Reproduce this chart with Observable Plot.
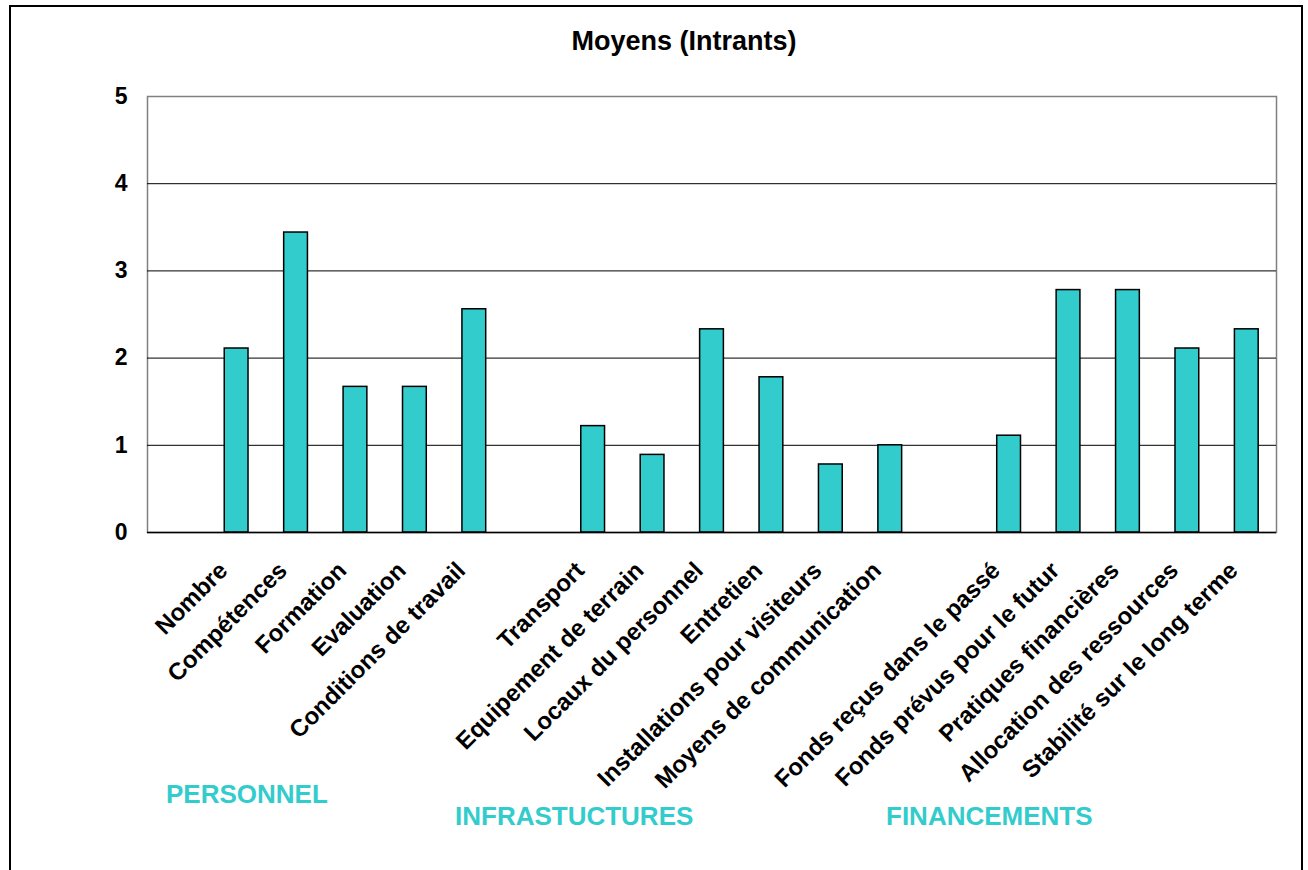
<!DOCTYPE html>
<html><head><meta charset="utf-8">
<script src="https://cdn.jsdelivr.net/npm/d3@7"></script>
<script src="https://cdn.jsdelivr.net/npm/@observablehq/plot@0.6"></script>
<style>
body{margin:0;background:#fff;font-family:"Liberation Sans",Arial,sans-serif;}
#wrap{position:relative;width:1308px;height:870px;overflow:hidden;background:#fff;}
#border{position:absolute;left:9px;top:5px;width:1294px;height:900px;border:2px solid #000;box-sizing:border-box;}
#chart{position:absolute;left:0;top:0;}
.t{position:absolute;font-weight:bold;line-height:1;white-space:nowrap;font-family:"Liberation Sans",Arial,sans-serif;}
.g{color:#33CCCC;font-size:26px;}
</style></head><body>
<div id="wrap">
<div id="border"></div>
<div id="chart"></div>
<div class="t" style="left:0;width:1368px;text-align:center;top:28px;font-size:27px;">Moyens (Intrants)</div>
<div class="t g" id="g0" style="left:166px;top:781px;"></div>
<div class="t g" id="g1" style="left:455px;top:803px;"></div>
<div class="t g" id="g2" style="left:886px;top:803px;"></div>
</div>
<script>
const personnel = ["Nombre","Compétences","Formation","Evaluation","Conditions de travail"];
const personnelValues = [2.11,3.44,1.67,1.67,2.56];
const infrastructures = ["Transport","Equipement de terrain","Locaux du personnel","Entretien","Installations pour visiteurs","Moyens de communication"];
const infrastructuresValues = [1.22,0.89,2.33,1.78,0.78,1.0];
const financements = ["Fonds reçus dans le passé","Fonds prévus pour le futur","Pratiques financières","Allocation des ressources","Stabilité sur le long terme"];
const financementsValues = [1.11,2.78,2.78,2.11,2.33];
const groupNames = ["PERSONNEL","INFRASTUCTURES","FINANCEMENTS"];
const yTicks = [0,1,2,3,4,5];
const gridValues = [1,2,3,4];

const groups = [[personnel,personnelValues],[infrastructures,infrastructuresValues],[financements,financementsValues]];
const domain = [];
const rows = [];
groups.forEach(([cats, vals], gi) => {
  domain.push("gap" + gi);
  cats.forEach((c, i) => { domain.push(c); rows.push({cat: c, value: vals[i]}); });
});
groupNames.forEach((n, i) => document.getElementById("g" + i).textContent = n);

const chart = Plot.plot({
  width: 1308, height: 870,
  marginLeft: 147, marginRight: 32, marginTop: 96, marginBottom: 338,
  style: {fontFamily: "Liberation Sans, Arial, sans-serif", fontWeight: "bold", background: "transparent", color: "#000"},
  x: {domain, paddingInner: 0.6, paddingOuter: 0.3, round: false, axis: null, label: null},
  y: {domain: [0,5], axis: null, label: null},
  marks: [
    Plot.frame({stroke: "#808080", strokeWidth: 1.5}),
    Plot.ruleY(gridValues, {stroke: "#000", strokeWidth: 1}),
    Plot.barY(rows, {x: "cat", y: "value", fill: "#33CCCC", stroke: "#000", strokeWidth: 1.5}),
    Plot.ruleY([0], {stroke: "#000", strokeWidth: 1.5}),
    Plot.axisY({ticks: yTicks, tickSize: 0, tickPadding: 20, fontSize: 23, fontWeight: "bold", label: null, tickFormat: d => String(d)}),
    Plot.text(rows, {x: "cat", frameAnchor: "bottom", text: "cat", rotate: -45, textAnchor: "end", lineAnchor: "middle", dx: -13, dy: 34, fontSize: 24, fontWeight: "bold", fill: "#000"})
  ]
});
document.getElementById("chart").appendChild(chart);
</script>
</body></html>
